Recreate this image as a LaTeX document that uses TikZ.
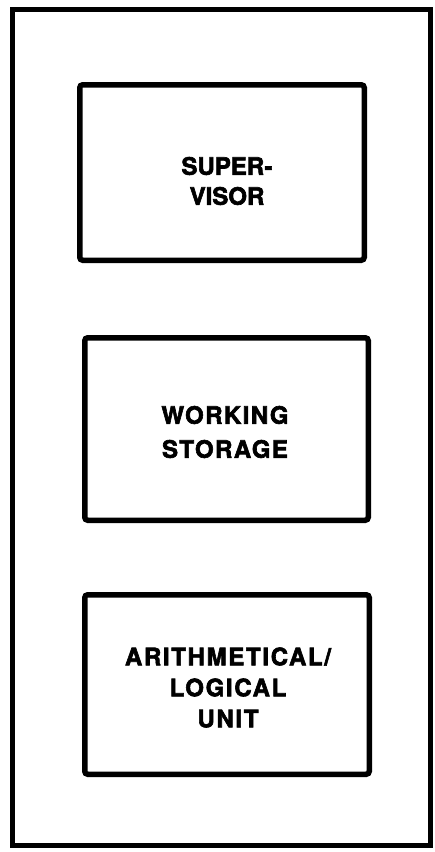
\documentclass[tikz,border=0pt]{standalone}
\usepackage{fontspec}
\setmainfont{TeX Gyre Heros}[BoldFeatures={FakeBold=2.5}]
\usepackage{tikz}
\tikzset{
  unit/.style={draw, line width=5.5pt, rounded corners=3pt, inner sep=0pt},
  frame/.style={draw, line width=5pt, inner sep=0pt},
  lbl/.style={align=center, inner sep=0pt, font=\fontsize{24}{30}\selectfont\bfseries}
}

\begin{document}
\begin{tikzpicture}[x=1pt, y=-1pt]
  \useasboundingbox (0,0) rectangle (435,852);
  % outer frame
  \node[frame, minimum width=418pt, minimum height=836pt] (cpu) at (221.5,427.5) {};
  % units
  \node[unit, minimum width=284.5pt, minimum height=175.5pt] (sup) at (222,172.5) {};
  \node[unit, minimum width=283.5pt, minimum height=182.5pt] (ws) at (226.5,429) {};
  \node[unit, minimum width=284.5pt, minimum height=179.5pt] (alu) at (227,684.5) {};
  % labels
  \node[lbl] (suptxt) at (227,181) {SUPER-\\VISOR};
  \node[lbl, font=\fontsize{24}{34}\selectfont\bfseries\addfontfeature{LetterSpace=6}] (wstxt) at (225,432) {WORKING\\STORAGE};
  \node[lbl, font=\fontsize{24}{31}\selectfont\bfseries\addfontfeature{LetterSpace=7}] (alutxt) at (228,687.5) {ARITHMETICAL/\\LOGICAL\\UNIT};
\end{tikzpicture}
\end{document}
